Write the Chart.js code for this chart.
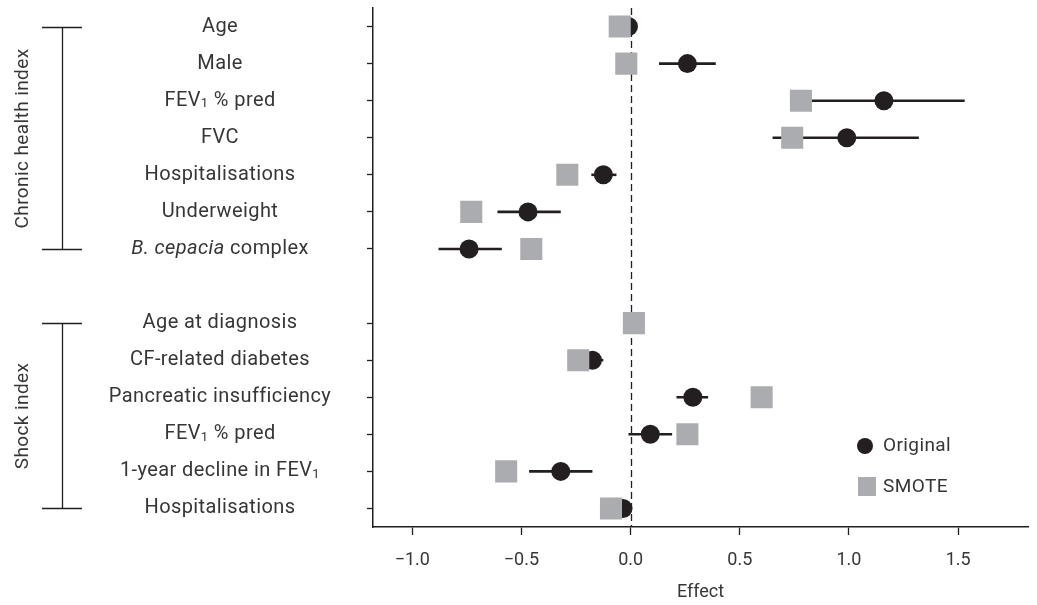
<!DOCTYPE html>
<html>
<head>
<meta charset="utf-8">
<script src="https://cdn.jsdelivr.net/npm/chart.js@4.4.1/dist/chart.umd.min.js"></script>
<style>
  html, body { margin: 0; padding: 0; background: #fff; }
  #wrap { width: 1037px; height: 605px; }
</style>
</head>
<body>
<div id="wrap"><canvas id="forest"></canvas></div>
<script>
// rows, top to bottom (empty string = gap between the two groups)
const categories = ["Age", "Male", "FEV1 % pred", "FVC", "Hospitalisations", "Underweight", "B. cepacia complex", "",
    "Age at diagnosis", "CF-related diabetes", "Pancreatic insufficiency", "FEV1 % pred", "1-year decline in FEV1", "Hospitalisations"];
const groupNames = ["Chronic health index", "Shock index"];
const groupFirstRow = [0, 8];
const groupLastRow = [6, 13];

const originalEffect = [-0.01, 0.26, 1.16, 0.99, -0.125, -0.47, -0.74, null, 0.015, -0.175, 0.285, 0.09, -0.32, -0.035];
const originalLow = [null, 0.13, 0.83, 0.65, -0.18, -0.61, -0.88, null, null, -0.235, 0.21, -0.01, -0.465, null];
const originalHigh = [null, 0.39, 1.53, 1.32, -0.065, -0.32, -0.59, null, null, -0.125, 0.355, 0.19, -0.175, null];
const smoteEffect = [-0.05, -0.02, 0.78, 0.74, -0.29, -0.73, -0.455, null, 0.015, -0.24, 0.60, 0.26, -0.57, -0.09];
const xTicks = [-1.0, -0.5, 0.0, 0.5, 1.0, 1.5];

const INK = "#231f20";
const TEXT = "#363636";
const GREY = "#abacaf";
const FONT = "Roboto";

function labelRuns(label) {
    // split a row label into normal / italic / subscript pieces
    const runs = [];
    let rest = label;
    if (rest.startsWith("B. cepacia")) {
        runs.push({ t: "B. cepacia", italic: true });
        rest = rest.slice(10);
    }
    rest.split(/(FEV1)/).forEach(p => {
        if (!p) return;
        if (p === "FEV1") {
            runs.push({ t: "FEV" });
            runs.push({ t: "1", sub: true });
        } else runs.push({ t: p });
    });
    return runs;
}

function runFont(r) {
    if (r.sub) return "13px " + FONT;
    return (r.italic ? "italic " : "") + "20px " + FONT;
}

const forestDecor = {
    id: "forestDecor",
    beforeDatasetsDraw(chart) {
        const { ctx, chartArea: a, scales: { x, y } } = chart;
        ctx.save();
        ctx.strokeStyle = INK;
        ctx.lineWidth = 1.3;
        ctx.setLineDash([7, 4]);
        const x0 = Math.round(x.getPixelForValue(0)) + 0.5;
        ctx.beginPath();
        ctx.moveTo(x0, a.top);
        ctx.lineTo(x0, a.bottom);
        ctx.stroke();
        ctx.setLineDash([]);
        ctx.lineWidth = 2.6;
        originalLow.forEach((lo, i) => {
            if (lo == null) return;
            const py = y.getPixelForValue(i);
            ctx.beginPath();
            ctx.moveTo(x.getPixelForValue(lo), py);
            ctx.lineTo(x.getPixelForValue(originalHigh[i]), py);
            ctx.stroke();
        });
        ctx.restore();
    },
    afterDraw(chart) {
        const { ctx, scales: { y } } = chart;
        ctx.save();
        ctx.fillStyle = TEXT;
        ctx.textBaseline = "middle";
        ctx.textAlign = "left";
        ctx.letterSpacing = "0.4px";
        // row labels
        categories.forEach((lab, i) => {
            if (!lab) return;
            const runs = labelRuns(lab);
            let w = 0;
            runs.forEach(r => { ctx.font = runFont(r); r.w = ctx.measureText(r.t).width; w += r.w; });
            let px = 220 - w / 2;
            const py = y.getPixelForValue(i);
            runs.forEach(r => {
                ctx.font = runFont(r);
                ctx.fillText(r.t, px, r.sub ? py + 3 : py);
                px += r.w;
            });
        });
        // group brackets
        ctx.strokeStyle = INK;
        ctx.lineWidth = 1.3;
        groupNames.forEach((name, g) => {
            const y1 = Math.round(y.getPixelForValue(groupFirstRow[g])) + 0.5;
            const y2 = Math.round(y.getPixelForValue(groupLastRow[g])) + 0.5;
            ctx.beginPath();
            ctx.moveTo(62.5, y1); ctx.lineTo(62.5, y2);
            ctx.moveTo(42, y1); ctx.lineTo(82, y1);
            ctx.moveTo(42, y2); ctx.lineTo(82, y2);
            ctx.stroke();
            ctx.save();
            ctx.translate(23, (y1 + y2) / 2);
            ctx.rotate(-Math.PI / 2);
            ctx.font = "19px " + FONT;
            ctx.textAlign = "center";
            ctx.fillText(name, 0, 0);
            ctx.restore();
        });
        // legend
        ctx.fillStyle = INK;
        ctx.beginPath();
        ctx.arc(865, 446, 8, 0, Math.PI * 2);
        ctx.fill();
        ctx.fillStyle = GREY;
        ctx.fillRect(858, 477, 18, 19);
        ctx.fillStyle = TEXT;
        ctx.font = "19px " + FONT;
        ctx.fillText(chart.data.datasets[1].label, 883, 446);
        ctx.fillText(chart.data.datasets[0].label, 883, 487);
        ctx.restore();
    }
};

Chart.defaults.font.family = FONT;
Chart.defaults.color = TEXT;

new Chart(document.getElementById("forest"), {
    type: "line",
    data: {
        labels: categories,
        datasets: [
            { label: "SMOTE", data: smoteEffect, order: 0, showLine: false,
              pointStyle: "rect", pointRadius: 15.6, backgroundColor: GREY, borderWidth: 0 },
            { label: "Original", data: originalEffect, order: 1, showLine: false,
              pointStyle: "circle", pointRadius: 9.5, backgroundColor: INK, borderWidth: 0 }
        ]
    },
    options: {
        indexAxis: "y",
        responsive: true,
        maintainAspectRatio: false,
        animation: false,
        events: [],
        layout: { autoPadding: false, padding: { top: 8, right: 9, left: 0, bottom: 0 } },
        plugins: { legend: { display: false }, tooltip: { enabled: false } },
        scales: {
            x: {
                type: "linear",
                min: -1.18, max: 1.82,
                afterFit(s) { s.height = 78; },
                afterBuildTicks(s) { s.ticks = xTicks.map(v => ({ value: v })); },
                border: { display: true, color: INK, width: 1.5 },
                grid: { drawOnChartArea: false, drawTicks: true, tickLength: 8, tickColor: INK, tickWidth: 1.3 },
                ticks: { padding: 15, font: { size: 18 }, color: TEXT,
                         callback: v => v.toFixed(1).replace("-", "\u2212") },
                title: { display: true, text: "Effect", font: { size: 18 }, color: TEXT, padding: { top: 4, bottom: 2 } }
            },
            y: {
                type: "category",
                offset: true,
                afterFit(s) { s.width = 373; },
                border: { display: true, color: INK, width: 1.5 },
                grid: { offset: false, drawOnChartArea: false, drawTicks: true, tickLength: 6, tickWidth: 1.3,
                        tickColor: c => categories[c.index] ? INK : "rgba(0,0,0,0)" },
                ticks: { display: false }
            }
        }
    },
    plugins: [forestDecor]
});
</script>
</body>
</html>
